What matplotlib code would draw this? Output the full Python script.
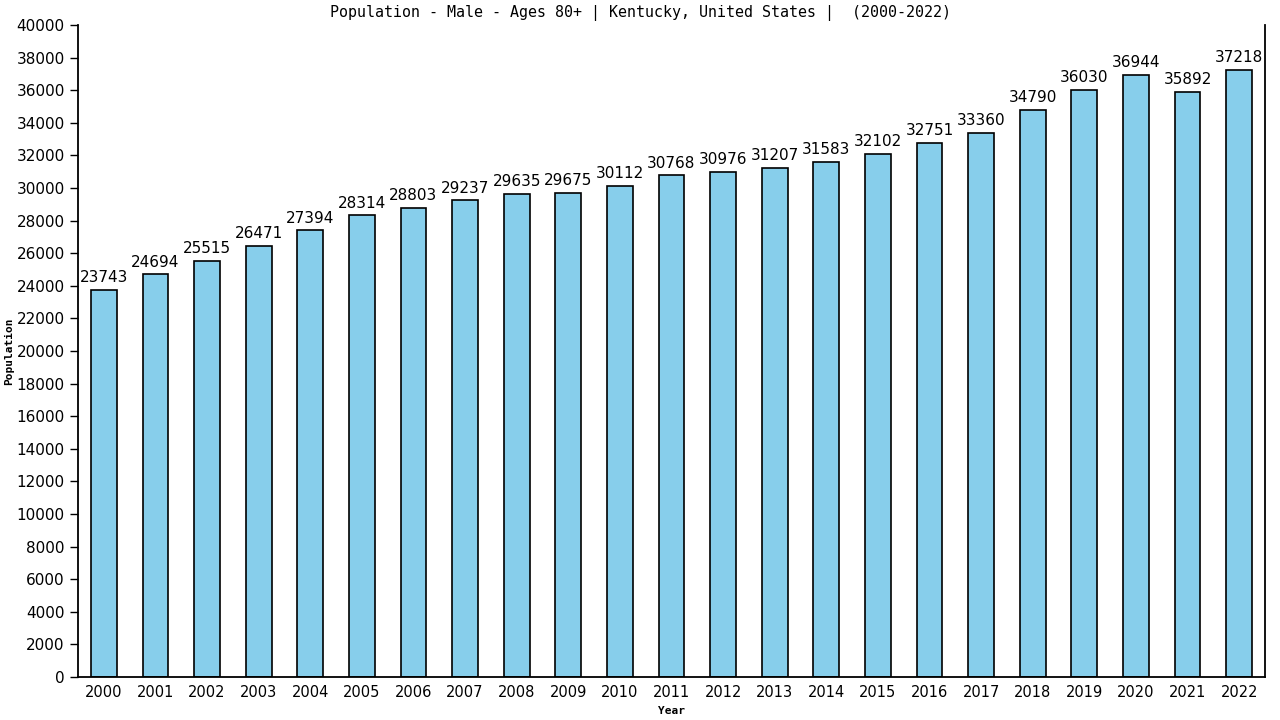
import matplotlib
matplotlib.use('Agg')
import matplotlib.pyplot as plt
import numpy as np

# data
years = [str(y) for y in range(2000, 2023)]
population = [23743, 24694, 25515, 26471, 27394, 28314, 28803, 29237, 29635, 29675,
              30112, 30768, 30976, 31207, 31583, 32102, 32751, 33360, 34790, 36030,
              36944, 35892, 37218]
y_ticks = list(range(0, 40001, 2000))

fig = plt.figure(figsize=(12.8, 7.2), dpi=100)
ax = fig.add_axes([78/1280, 43/720, (1265-78)/1280, (677-25)/720])

x = np.arange(len(years))
ax.bar(x, population, width=0.5, color='#87CEEB', edgecolor='black', linewidth=1.2)

for xi, v in zip(x, population):
    ax.text(xi, v + 300, str(v), ha='center', va='bottom', fontsize=11, family='DejaVu Sans')

ax.set_xlim(-0.5, len(years) - 0.5)
ax.set_ylim(0, 40000)
ax.set_xticks(x)
ax.set_xticklabels(years, fontsize=10.5)
ax.set_yticks(y_ticks)
ax.set_yticklabels([str(t) for t in y_ticks], fontsize=11)
ax.tick_params(axis='x', length=0, pad=6)
ax.tick_params(axis='y', length=6, direction='out', width=1)

ax.spines['top'].set_visible(False)
for s in ['left', 'bottom', 'right']:
    ax.spines[s].set_linewidth(1.3)

ax.set_xlabel('Year', family='DejaVu Sans Mono', fontweight='bold', fontsize=8, labelpad=4)
ax.set_ylabel('Population', family='DejaVu Sans Mono', fontweight='bold', fontsize=8, labelpad=2)
fig.text(0.5, 1 - 13/720, 'Population - Male - Ages 80+ | Kentucky, United States |  (2000-2022)',
         ha='center', va='center', family='DejaVu Sans Mono', fontsize=10.8)

fig.savefig('out.png', dpi=100)
